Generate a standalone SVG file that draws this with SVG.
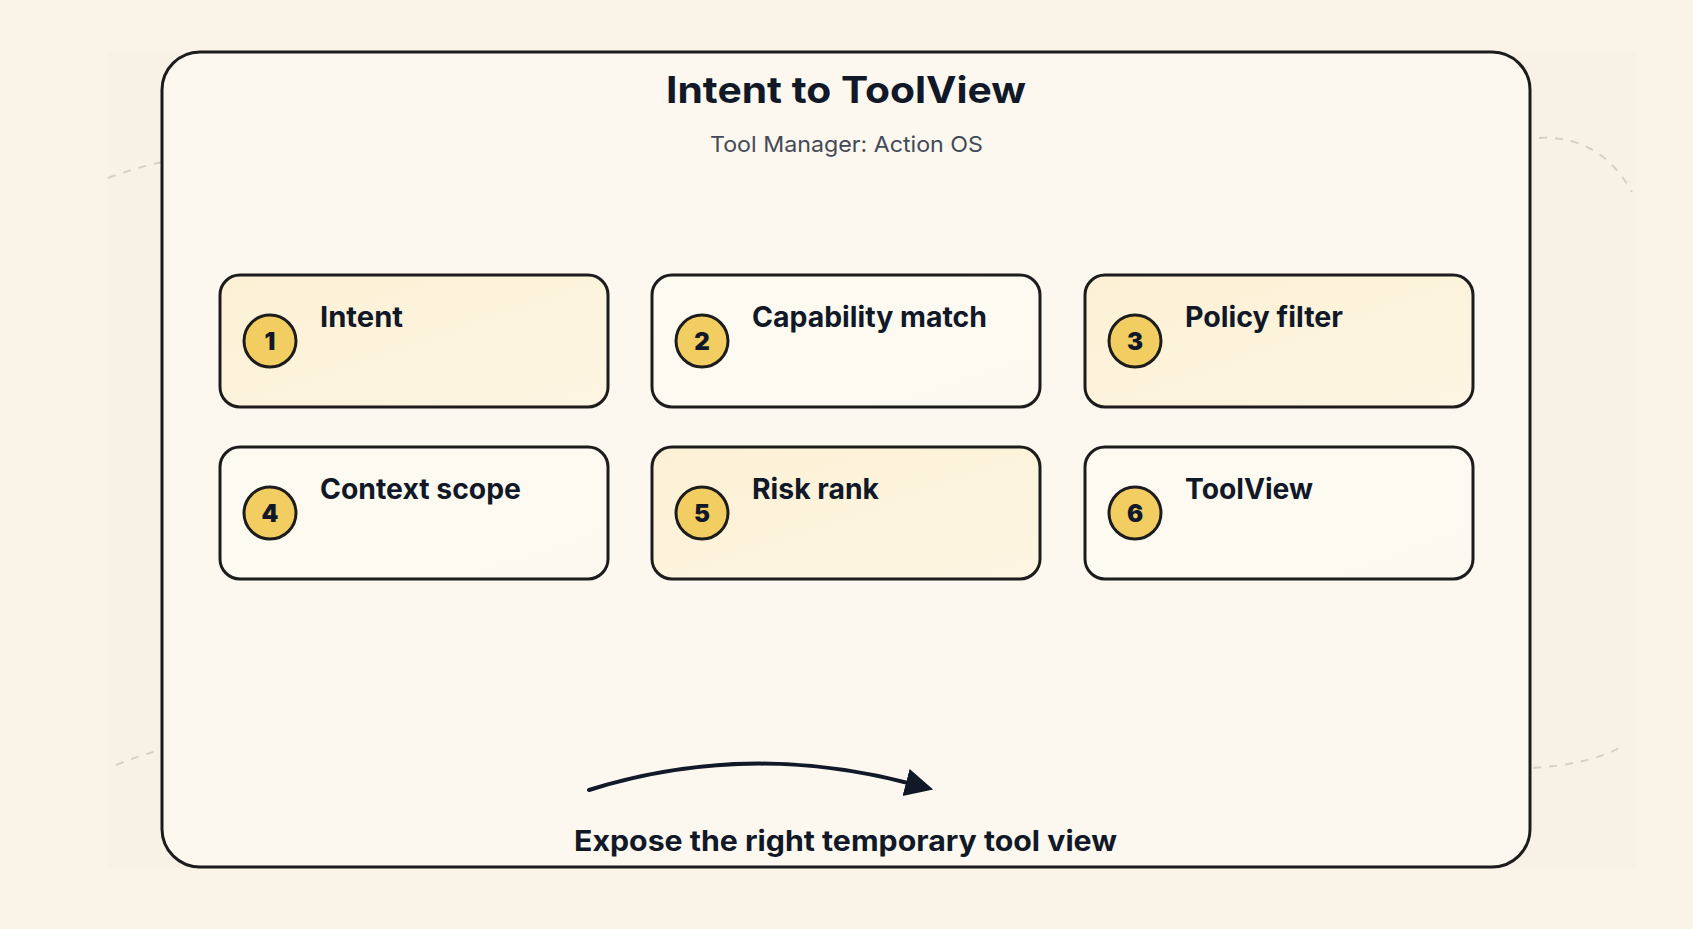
<svg xmlns="http://www.w3.org/2000/svg" width="1693" height="929" viewBox="0 0 1693 929">
<defs>
<style>
.node{stroke:#1c1c1c;stroke-width:3}
.warm{fill:url(#gWarm)}
.cool{fill:url(#gCool)}
.badge{fill:#f1cd62;stroke:#1c1c1c;stroke-width:3}
.num{font-family:Inter,"Open Sans",sans-serif;font-weight:900;font-size:24px;fill:#111827;text-anchor:middle}
.label{font-family:Inter,"Open Sans",sans-serif;font-weight:700;font-size:28px;fill:#111827}
.dash{fill:none;stroke:#d6d1c8;stroke-width:2;stroke-dasharray:8 8}
</style>
<linearGradient id="gWarm" x1="0" y1="0" x2="1" y2="1">
<stop offset="0" stop-color="#fcf1d5"/>
<stop offset="1" stop-color="#fdf5e2"/>
</linearGradient>
<linearGradient id="gCool" x1="0" y1="0" x2="1" y2="1">
<stop offset="0" stop-color="#fdfaf2"/>
<stop offset="1" stop-color="#fcf9f1"/>
</linearGradient>
<marker id="arrow" markerUnits="userSpaceOnUse" markerWidth="32" markerHeight="30" refX="2" refY="14" orient="auto">
<path d="M0,0 L28,14 L0,28 z" fill="#111827"/>
</marker>
</defs>
<rect width="1693" height="929" fill="#f9f3e8"/>
<rect x="108" y="52" width="1528" height="816" fill="#f8f2e6"/>
<g id="decor">
<path class="dash" d="M108,178 Q135,168 162,162"/>
<path class="dash" d="M1539,138 Q1600,135 1632,192"/>
<path class="dash" d="M116,765 Q138,756 160,750"/>
<path class="dash" d="M1533,768 Q1590,764 1619,748"/>
</g>
<g id="frame">
<rect x="162" y="52" width="1368" height="815" rx="38" ry="38" fill="#fcf8ef" stroke="#1c1c1c" stroke-width="3"/>
<text x="666" y="103" textLength="360" lengthAdjust="spacingAndGlyphs" font-family="Inter,'Open Sans',sans-serif" font-weight="700" font-size="37" fill="#111827">Intent to ToolView</text>
<text x="710" y="152" textLength="273" lengthAdjust="spacingAndGlyphs" font-family="Inter,'Open Sans',sans-serif" font-size="22" fill="#444a57">Tool Manager: Action OS</text>
</g>
<g id="node1">
<rect class="node warm" x="220" y="275" width="388" height="132" rx="20"/>
<circle class="badge" cx="270" cy="341" r="26"/>
<text class="num" x="270" y="350">1</text>
<text class="label" x="320" y="327" textLength="83" lengthAdjust="spacingAndGlyphs">Intent</text>
</g>
<g id="node2">
<rect class="node cool" x="652" y="275" width="388" height="132" rx="20"/>
<circle class="badge" cx="702" cy="341" r="26"/>
<text class="num" x="702" y="350">2</text>
<text class="label" x="752" y="327" textLength="235" lengthAdjust="spacingAndGlyphs">Capability match</text>
</g>
<g id="node3">
<rect class="node warm" x="1085" y="275" width="388" height="132" rx="20"/>
<circle class="badge" cx="1135" cy="341" r="26"/>
<text class="num" x="1135" y="350">3</text>
<text class="label" x="1185" y="327" textLength="158" lengthAdjust="spacingAndGlyphs">Policy filter</text>
</g>
<g id="node4">
<rect class="node cool" x="220" y="447" width="388" height="132" rx="20"/>
<circle class="badge" cx="270" cy="513" r="26"/>
<text class="num" x="270" y="522">4</text>
<text class="label" x="320" y="499" textLength="201" lengthAdjust="spacingAndGlyphs">Context scope</text>
</g>
<g id="node5">
<rect class="node warm" x="652" y="447" width="388" height="132" rx="20"/>
<circle class="badge" cx="702" cy="513" r="26"/>
<text class="num" x="702" y="522">5</text>
<text class="label" x="752" y="499" textLength="127" lengthAdjust="spacingAndGlyphs">Risk rank</text>
</g>
<g id="node6">
<rect class="node cool" x="1085" y="447" width="388" height="132" rx="20"/>
<circle class="badge" cx="1135" cy="513" r="26"/>
<text class="num" x="1135" y="522">6</text>
<text class="label" x="1185" y="499" textLength="128" lengthAdjust="spacingAndGlyphs">ToolView</text>
</g>
<g id="connectors">
<path d="M589,790 Q746,741 908,783" fill="none" stroke="#111827" stroke-width="4" stroke-linecap="round" marker-end="url(#arrow)"/>
</g>
<g id="caption">
<text x="574" y="851" textLength="543" lengthAdjust="spacingAndGlyphs" font-family="Inter,'Open Sans',sans-serif" font-weight="700" font-size="28" fill="#111827">Expose the right temporary tool view</text>
</g>
</svg>
